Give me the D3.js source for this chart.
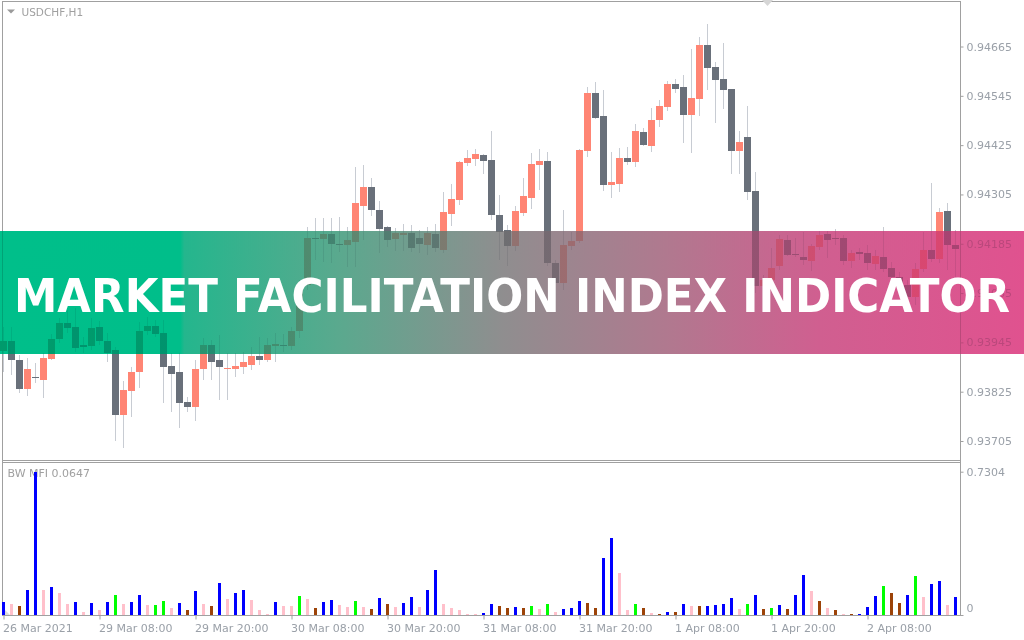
<!DOCTYPE html>
<html><head><meta charset="utf-8">
<script src="https://cdn.jsdelivr.net/npm/d3@7"></script>
<style>
body{margin:0;background:#fff;}
svg{display:block;}
text{font-family:"DejaVu Sans",sans-serif;}
</style>
</head><body>
<svg id="c" width="1024" height="640"></svg>
<script>
// ---------- DATA ----------
const symbol = "USDCHF,H1";
const indicatorLabel = "BW MFI 0.0647";
const bannerText = "MARKET FACILITATION INDEX INDICATOR";
const timeLabels = ["26 Mar 2021","29 Mar 08:00","29 Mar 20:00","30 Mar 08:00","30 Mar 20:00","31 Mar 08:00","31 Mar 20:00","1 Apr 08:00","1 Apr 20:00","2 Apr 08:00"];
const timeLabelBars = [0,12,24,36,48,60,72,84,96,108];
const priceTicks = [0.93705,0.93825,0.93945,0.94065,0.94185,0.94305,0.94425,0.94545,0.94665];
const mfiTicks = [0,0.7304];

const open = [
0.93924,0.93948,0.93902,0.93832,0.93861,0.93853,0.93905,0.93953,0.93992,0.93982,
0.93939,0.93936,0.93982,0.93948,0.93926,0.93768,0.93827,0.93873,0.93973,0.93985,
0.93968,0.93888,0.93873,0.93800,0.93788,0.93880,0.93939,0.93902,0.93880,0.93880,
0.93885,0.93890,0.93912,0.93902,0.93936,0.93939,0.93936,0.93973,0.94085,0.94199,
0.94196,0.94209,0.94184,0.94182,0.94189,0.94277,0.94323,0.94267,0.94226,0.94196,
0.94206,0.94211,0.94199,0.94182,0.94209,0.94170,0.94257,0.94291,0.94381,0.94391,
0.94401,0.94389,0.94255,0.94218,0.94179,0.94260,0.94296,0.94377,0.94386,0.94138,
0.94089,0.94179,0.94192,0.94411,0.94552,0.94496,0.94328,0.94330,0.94394,0.94384,
0.94457,0.94423,0.94486,0.94518,0.94574,0.94566,0.94498,0.94537,0.94669,0.94615,
0.94586,0.94561,0.94411,0.94445,0.94313,0.94082,0.94097,0.94131,0.94194,0.94160,
0.94153,0.94143,0.94177,0.94209,0.94199,0.94199,0.94143,0.94165,0.94162,0.94136,
0.94153,0.94126,0.94104,0.94085,0.94055,0.94124,0.94170,0.94148,0.94265,0.94182];
const high = [
0.93982,0.93982,0.93914,0.93907,0.93895,0.93919,0.93965,0.94004,0.94024,0.94029,
0.93958,0.94004,0.93997,0.93968,0.93934,0.93851,0.93885,0.93995,0.94007,0.93999,
0.93999,0.93919,0.93919,0.93812,0.93902,0.93956,0.93951,0.93963,0.93919,0.93919,
0.93922,0.93934,0.93958,0.93956,0.93968,0.93965,0.93982,0.94097,0.94226,0.94248,
0.94248,0.94248,0.94250,0.94226,0.94372,0.94377,0.94345,0.94289,0.94228,0.94223,
0.94233,0.94231,0.94218,0.94226,0.94233,0.94311,0.94330,0.94386,0.94413,0.94415,
0.94403,0.94459,0.94304,0.94231,0.94277,0.94345,0.94406,0.94415,0.94408,0.94145,
0.94267,0.94214,0.94415,0.94566,0.94578,0.94559,0.94408,0.94418,0.94420,0.94476,
0.94467,0.94515,0.94535,0.94581,0.94586,0.94596,0.94659,0.94688,0.94720,0.94627,
0.94673,0.94561,0.94459,0.94520,0.94360,0.94109,0.94175,0.94206,0.94206,0.94199,
0.94214,0.94184,0.94216,0.94216,0.94221,0.94206,0.94170,0.94175,0.94182,0.94170,
0.94226,0.94141,0.94116,0.94097,0.94138,0.94214,0.94333,0.94272,0.94284,0.94218];
const low = [
0.93873,0.93866,0.93822,0.93815,0.93846,0.93810,0.93902,0.93943,0.93968,0.93922,
0.93919,0.93926,0.93939,0.93897,0.93705,0.93688,0.93763,0.93834,0.93963,0.93958,
0.93797,0.93776,0.93737,0.93776,0.93754,0.93853,0.93853,0.93805,0.93805,0.93861,
0.93868,0.93878,0.93890,0.93897,0.93897,0.93922,0.93926,0.93956,0.94072,0.94145,
0.94141,0.94138,0.94165,0.94128,0.94128,0.94194,0.94252,0.94162,0.94177,0.94167,
0.94167,0.94165,0.94162,0.94158,0.94165,0.94162,0.94228,0.94279,0.94374,0.94374,
0.94355,0.94243,0.94145,0.94131,0.94167,0.94252,0.94270,0.94316,0.94131,0.94024,
0.94072,0.94170,0.94187,0.94396,0.94488,0.94313,0.94296,0.94311,0.94377,0.94372,
0.94423,0.94408,0.94469,0.94508,0.94552,0.94430,0.94406,0.94496,0.94559,0.94479,
0.94513,0.94355,0.94355,0.94291,0.94065,0.94065,0.94089,0.94121,0.94155,0.94153,
0.94133,0.94119,0.94170,0.94150,0.94182,0.94133,0.94126,0.94145,0.94121,0.94121,
0.94116,0.94092,0.94072,0.94036,0.94036,0.94116,0.94141,0.94138,0.94121,0.94104];
const close = [
0.93948,0.93902,0.93832,0.93880,0.93858,0.93907,0.93953,0.93992,0.93980,0.93931,
0.93934,0.93980,0.93948,0.93919,0.93768,0.93829,0.93873,0.93973,0.93985,0.93965,
0.93885,0.93868,0.93797,0.93788,0.93880,0.93939,0.93897,0.93885,0.93883,0.93888,
0.93897,0.93912,0.93902,0.93939,0.93941,0.93936,0.93973,0.94085,0.94199,0.94196,
0.94209,0.94184,0.94182,0.94194,0.94284,0.94323,0.94267,0.94221,0.94194,0.94211,
0.94211,0.94175,0.94184,0.94211,0.94175,0.94262,0.94294,0.94384,0.94394,0.94403,
0.94386,0.94255,0.94214,0.94179,0.94265,0.94301,0.94379,0.94386,0.94138,0.94089,
0.94182,0.94192,0.94413,0.94552,0.94491,0.94328,0.94335,0.94394,0.94384,0.94459,
0.94425,0.94486,0.94520,0.94574,0.94561,0.94498,0.94540,0.94669,0.94613,0.94583,
0.94559,0.94411,0.94433,0.94311,0.94082,0.94097,0.94126,0.94196,0.94158,0.94158,
0.94145,0.94179,0.94206,0.94194,0.94196,0.94143,0.94162,0.94160,0.94138,0.94155,
0.94124,0.94104,0.94085,0.94055,0.94124,0.94170,0.94148,0.94262,0.94182,0.94172];

const mfi = [
0.068,0.056,0.046,0.127,0.7304,0.127,0.143,0.114,0.056,0.066,
0.017,0.061,0.025,0.066,0.102,0.056,0.066,0.102,0.051,0.051,
0.071,0.036,0.061,0.025,0.122,0.056,0.046,0.163,0.081,0.112,
0.127,0.076,0.025,0.005,0.066,0.046,0.046,0.097,0.081,0.036,
0.066,0.076,0.051,0.041,0.071,0.041,0.031,0.087,0.056,0.041,
0.061,0.092,0.041,0.127,0.229,0.056,0.036,0.025,0.005,0.004,
0.010,0.056,0.046,0.036,0.041,0.036,0.046,0.031,0.056,0.015,
0.031,0.036,0.071,0.061,0.036,0.290,0.392,0.214,0.025,0.056,
0.036,0.010,0.005,0.015,0.015,0.056,0.046,0.046,0.046,0.051,
0.056,0.087,0.031,0.056,0.102,0.031,0.036,0.051,0.031,0.102,
0.204,0.122,0.071,0.036,0.025,0.005,0.004,0.005,0.041,0.097,
0.148,0.112,0.061,0.102,0.199,0.092,0.158,0.173,0.051,0.092];
// B = MFI up & volume up, P = fake, R = fade, G = squat
const mfiState = ("BPRBBPBPPB"+"PBPBGPBBPG"+"GPBRBPRBPB"+"BPPPBPPGPR"+"BBPPGPRBRP"+
  "BBPBBPPPPP"+"BBRRBRGPGP"+"BBBRRBBPPG"+"RPRBRBPRBB"+"BBPGBRGBRB"+"BPRPRPRBBB"+"GRRBGPBBPB").split("");

// ---------- STYLE ----------
const stateColor = {B:"#0000ff", P:"#ffc0cb", R:"#9c4308", G:"#00ff00"};
const bullColor = "#ff8574", bearColor = "#69707a", wickColor = "#c8ccd3";
const frameColor = "#a0a0a0", labelColor = "#9aa0a8";

const svg = d3.select("#c");
svg.append("rect").attr("width",1024).attr("height",640).attr("fill","#ffffff");

const n = open.length;
const x = d3.scaleLinear().domain([0, n-1]).range([3.5, 3.5 + 8*(n-1)]);
const y = d3.scaleLinear().domain([0.93705, 0.94665]).range([441, 46.5]);
const yH = d3.scaleLinear().domain([0, 0.7304]).range([615, 471.7]);

// frames
const fr = svg.append("g").attr("stroke", frameColor).attr("stroke-width",1).attr("shape-rendering","crispEdges");
fr.append("line").attr("x1",2).attr("x2",961).attr("y1",1.5).attr("y2",1.5);
fr.append("line").attr("x1",2.5).attr("x2",2.5).attr("y1",1.5).attr("y2",616);
fr.append("line").attr("x1",960.5).attr("x2",960.5).attr("y1",1.5).attr("y2",616);
fr.append("line").attr("x1",2).attr("x2",961).attr("y1",460.5).attr("y2",460.5);
fr.append("line").attr("x1",2).attr("x2",961).attr("y1",462.5).attr("y2",462.5);
fr.append("line").attr("x1",2).attr("x2",961).attr("y1",615.5).attr("y2",615.5);

// header
svg.append("path").attr("d","M7,9.5 L15,9.5 L11,13.5 Z").attr("fill","#9a9a9a");
svg.append("text").attr("x",21.5).attr("y",16).attr("font-size",10.5).attr("fill","#a0a0a0").text(symbol);
svg.append("path").attr("d","M762,0 L773,0 L767.5,6 Z").attr("fill","#d6d6d6");

// right price axis
const ay = svg.append("g").attr("transform","translate(960.5,0)")
  .call(d3.axisRight(y).tickValues(priceTicks).tickSize(3).tickPadding(3).tickFormat(d3.format(".5f")));
ay.select(".domain").remove();
ay.selectAll("line").attr("stroke",frameColor);
ay.selectAll("text").attr("fill",labelColor).attr("font-size",11).attr("font-family","DejaVu Sans");

// indicator axis
const ah = svg.append("g").attr("transform","translate(960.5,0)")
  .call(d3.axisRight(yH).tickValues(mfiTicks).tickSize(3).tickPadding(3).tickFormat(d => d===0 ? "0" : d3.format(".4f")(d)));
ah.select(".domain").remove();
ah.selectAll("line").attr("stroke",frameColor);
ah.selectAll("text").attr("fill",labelColor).attr("font-size",11).attr("font-family","DejaVu Sans")
  .attr("y", d => d === 0 ? -7 : 0);

// time axis
const ax = svg.append("g").attr("transform","translate(0,615.5)")
  .call(d3.axisBottom(x).tickValues(timeLabelBars).tickSize(4).tickPadding(5).tickFormat((d,i) => timeLabels[i]));
ax.select(".domain").remove();
ax.selectAll("line").attr("stroke",frameColor);
ax.selectAll("text").attr("fill",labelColor).attr("font-size",11).attr("font-family","DejaVu Sans")
  .attr("text-anchor","start").attr("x",-1);

// candles
const idx = d3.range(n);
svg.append("g").selectAll("line").data(idx).join("line")
  .attr("x1", i => x(i)).attr("x2", i => x(i))
  .attr("y1", i => Math.round(y(high[i]))).attr("y2", i => Math.round(y(low[i])))
  .attr("stroke", wickColor).attr("stroke-width",1);
svg.append("g").selectAll("rect").data(idx).join("rect")
  .attr("x", i => x(i) - 3.5).attr("width", 7)
  .attr("y", i => Math.round(y(Math.max(open[i], close[i]))))
  .attr("height", i => Math.max(1, Math.round(y(Math.min(open[i], close[i]))) - Math.round(y(Math.max(open[i], close[i])))))
  .attr("fill", i => close[i] > open[i] ? bullColor : bearColor);

// indicator
svg.append("text").attr("x",7.5).attr("y",477).attr("font-size",11).attr("fill","#a0a0a0").text(indicatorLabel);
svg.append("path").attr("d","M3,608 L10,615 L3,615 Z").attr("fill","#dcdcdc");
svg.append("g").selectAll("rect").data(idx).join("rect")
  .attr("x", i => x(i) - 1.5).attr("width", 3)
  .attr("y", i => Math.round(yH(mfi[i])))
  .attr("height", i => Math.max(1, 615 - Math.round(yH(mfi[i]))))
  .attr("fill", i => stateColor[mfiState[i]]);

// banner
const defs = svg.append("defs");
const g = defs.append("linearGradient").attr("id","bg").attr("x1",0).attr("x2",1).attr("y1",0).attr("y2",0);
[[0,"#00bf8a"],[0.176,"#00be8a"],[0.18,"#24b68d"],[0.33,"#5aa98e"],[0.49,"#8f8e8f"],[0.65,"#b0798f"],[0.8,"#d05f90"],[1,"#e0528f"]]
  .forEach(s => g.append("stop").attr("offset",s[0]).attr("stop-color",s[1]));
svg.append("rect").attr("x",0).attr("y",231).attr("width",1024).attr("height",123)
  .attr("fill","url(#bg)").style("mix-blend-mode","multiply");
svg.append("rect").attr("x",0).attr("y",231).attr("width",1024).attr("height",123)
  .attr("fill","url(#bg)").attr("opacity",0.6);
svg.append("text").attr("x",14).attr("y",312)
  .attr("font-family","Inter, 'Open Sans', sans-serif").attr("font-weight",600).attr("font-size",47)
  .attr("fill","#ffffff").attr("textLength",996).attr("lengthAdjust","spacingAndGlyphs")
  .text(bannerText);
</script>
</body></html>
